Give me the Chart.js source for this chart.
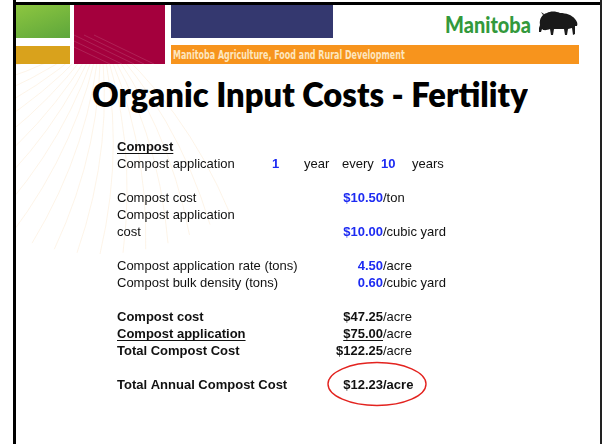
<!DOCTYPE html>
<html>
<head>
<meta charset="utf-8">
<script src="https://cdn.jsdelivr.net/npm/chart.js@4.4.1/dist/chart.umd.min.js"></script>
<style>
html, body { margin: 0; padding: 0; background: #fff; }
body { width: 602px; height: 444px; position: relative; overflow: hidden; font-family: 'Liberation Sans', Arial, sans-serif; }
.a { position: absolute; }
#bl { left: 13px; top: 0; width: 3px; height: 444px; background: #000; }
#bt { left: 13px; top: 2px; width: 589px; height: 3px; background: #000; }
#br { left: 600px; top: 0; width: 2px; height: 444px; background: #222; }
#green { left: 16px; top: 5px; width: 54px; height: 33px; background: linear-gradient(160deg, #8dc640, #5da63b); }
#mustard { left: 16px; top: 46px; width: 54px; height: 18px; background: #d9a21c; }
#maroon { left: 74px; top: 5px; width: 91px; height: 59px; background: #a4003d; overflow: hidden; }
#navy { left: 171px; top: 5px; width: 162px; height: 33px; background: #34386f; }
#orange { left: 171px; top: 45px; width: 408px; height: 19px; background: #f7941d; }
#dept { left: 173px; top: 47px; font: bold 12px 'Liberation Sans Narrow', 'DejaVu Sans Condensed', sans-serif; color: #fde6bf; white-space: nowrap; line-height: 16px; transform-origin: left center; }
#mb { left: 445px; top: 12px; font: 900 22px Lato, sans-serif; color: #33993c; line-height: 1.2; white-space: nowrap; transform-origin: left center; }
#bison { left: 537px; top: 10px; }
#title { left: 92px; top: 75px; font: 800 33px Lato, 'Open Sans', sans-serif; color: #000; line-height: 1.2; white-space: nowrap; transform-origin: left center; }
#sun { left: 16px; top: 64px; }
#wrap { left: 100px; top: 120px; }
</style>
</head>
<body>
<svg id="sun" class="a" width="300" height="200"></svg>
<div id="green" class="a"></div>
<div id="mustard" class="a"></div>
<div id="maroon" class="a"><svg width="91" height="59"><g stroke="rgba(255,255,255,0.13)" stroke-width="1" fill="none">
  <path d="M0 30 L60 59"/><path d="M0 36 L48 59"/><path d="M0 42 L36 59"/><path d="M10 30 L70 59"/><path d="M20 30 L80 59"/>
</g></svg></div>
<div id="navy" class="a"></div>
<div id="orange" class="a"></div>
<div id="dept" class="a">Manitoba Agriculture, Food and Rural Development</div>
<div id="mb" class="a">Manitoba</div>
<svg id="bison" class="a" width="42" height="28" viewBox="0 0 42 28">
  <path fill="#1a1a1a" d="M3 15 C2 9 5 4 10 3 C13 1 19 1 23 3 C29 3 35 5 38 9 C40 11 41 14 40 16 L38 16 L38 24 L36 25 L35 18 L31 19 L30 25 L28 25 L27 19 L17 19 L16 25 L14 25 L13 19 C10 20 7 21 5 19 L4 22 L2 22 L2 18 Z M6 5 L4 2 L7 4 Z"/>
</svg>
<div id="title" class="a">Organic Input Costs - Fertility</div>
<div id="wrap" class="a"><canvas id="c" width="380" height="300"></canvas></div>
<div id="bl" class="a"></div>
<div id="bt" class="a"></div>
<div id="br" class="a"></div>

<script>
// rows of the cost sheet, top to bottom ('' = blank spacer row)
const rowLabels = ['Compost', 'Compost application', '', 'Compost cost', 'Compost application', 'cost', '',
  'Compost application rate (tons)', 'Compost bulk density (tons)', '', 'Compost cost', 'Compost application',
  'Total Compost Cost', '', 'Total Annual Compost Cost'];
const boldRows = [0, 10, 11, 12, 14];
const underlineRows = [0, 11];

// application frequency: 1 year every 10 years
const freqRow = 1;
const appYears = 1;
const everyYears = 10;

// value column
const valueRows = [3, 5, 7, 8, 10, 11, 12, 14];
const amounts = [10.50, 10.00, 4.50, 0.60, 47.25, 75.00, 122.25, 12.23];
const isDollar = [true, true, false, false, true, true, true, true];
const units = ['/ton', '/cubic yard', '/acre', '/cubic yard', '/acre', '/acre', '/acre', '/acre'];
const inputRows = [3, 5, 7, 8];       // entered values, shown in blue
const underlineValueRows = [11];
const circledRow = 14;

const BLUE = '#1d2bf2', INK = '#111', RED = '#e3231f';
const FAM = "'Liberation Sans', Arial, sans-serif";
const f = (w) => `${w} 13px ${FAM}`;
const money = (v, d) => (d ? '$' : '') + v.toFixed(2);

// column anchors (canvas px)
const NUM_RIGHT = 283, FREQ_X = [172, 204, 242, 281, 312];

const sheet = {
  id: 'sheet',
  afterDraw(chart) {
    const { ctx, scales: { y } } = chart;
    ctx.save();
    ctx.textBaseline = 'middle';

    // underline the bold labels
    ctx.strokeStyle = INK; ctx.lineWidth = 1;
    underlineRows.forEach(r => {
      ctx.font = f('bold');
      const w = ctx.measureText(rowLabels[r]).width;
      const py = Math.round(y.getPixelForValue(r) + 6) + 0.5;
      ctx.beginPath(); ctx.moveTo(y.left, py); ctx.lineTo(y.left + w, py); ctx.stroke();
    });

    // frequency row
    const fy = y.getPixelForValue(freqRow);
    const parts = [[String(appYears), 'bold', BLUE], ['year', 'normal', INK], ['every', 'normal', INK],
                   [String(everyYears), 'bold', BLUE], ['years', 'normal', INK]];
    ctx.textAlign = 'left';
    parts.forEach(([t, w, c], i) => { ctx.font = f(w); ctx.fillStyle = c; ctx.fillText(t, FREQ_X[i], fy); });

    // values: number right aligned, unit left aligned
    valueRows.forEach((r, i) => {
      const py = y.getPixelForValue(r);
      const num = money(amounts[i], isDollar[i]);
      const blue = inputRows.includes(r);
      const circled = r === circledRow;
      ctx.font = f('bold');
      ctx.fillStyle = blue ? BLUE : INK;
      ctx.textAlign = 'right';
      ctx.fillText(num, NUM_RIGHT, py);
      if (underlineValueRows.includes(r)) {
        const w = ctx.measureText(num).width;
        const uy = Math.round(py + 6) + 0.5;
        ctx.strokeStyle = INK;
        ctx.beginPath(); ctx.moveTo(NUM_RIGHT - w, uy); ctx.lineTo(NUM_RIGHT, uy); ctx.stroke();
      }
      ctx.textAlign = 'left';
      ctx.font = f(circled ? 'bold' : 'normal');
      ctx.fillStyle = INK;
      ctx.fillText(units[i], NUM_RIGHT, py);
      if (circled) {
        ctx.strokeStyle = RED; ctx.lineWidth = 1.4;
        ctx.beginPath(); ctx.ellipse(277, py - 1, 49, 21.5, 0, 0, Math.PI * 2); ctx.stroke();
      }
    });
    ctx.restore();
  }
};

new Chart(document.getElementById('c'), {
  type: 'scatter',
  data: { labels: rowLabels, datasets: [] },
  options: {
    responsive: false, animation: false, events: [],
    layout: { padding: { left: 17, top: 27, bottom: 35, right: 0 } },
    plugins: { legend: { display: false }, tooltip: { enabled: false } },
    scales: {
      x: { type: 'linear', display: false, min: 0, max: 1 },
      y: {
        type: 'category', labels: rowLabels,
        grid: { display: false }, border: { display: false },
        ticks: {
          autoSkip: false, crossAlign: 'far', padding: 0, color: INK,
          font: c => ({ family: FAM, size: 13, weight: boldRows.includes(c.index) ? 'bold' : 'normal' })
        }
      }
    }
  },
  plugins: [sheet]
});

// fit header/title text widths to the slide
function fit(id, w) { const el = document.getElementById(id); el.style.transform = `scaleX(${w / el.offsetWidth})`; }
fit('title', 436);
fit('dept', 232);
fit('mb', 86);

// faint fan of curved lines behind the title
const sun = document.getElementById('sun');
let d = '';
const ox = 84, oy = -30, L = 220;
for (let deg = 40; deg <= 172; deg += 6) {
  const a = deg * Math.PI / 180;
  const b = (deg + 14) * Math.PI / 180;
  const x1 = ox + Math.cos(a) * L * 0.5, y1 = oy + Math.sin(a) * L * 0.5;
  const x2 = ox + Math.cos(b) * L, y2 = oy + Math.sin(b) * L;
  d += `<path d="M${ox} ${oy} Q${x1.toFixed(1)} ${y1.toFixed(1)} ${x2.toFixed(1)} ${y2.toFixed(1)}"/>`;
}
sun.innerHTML = `<g stroke="#f5cfa0" stroke-opacity="0.3" stroke-width="0.8" fill="none">${d}</g>`;
</script>
</body>
</html>
